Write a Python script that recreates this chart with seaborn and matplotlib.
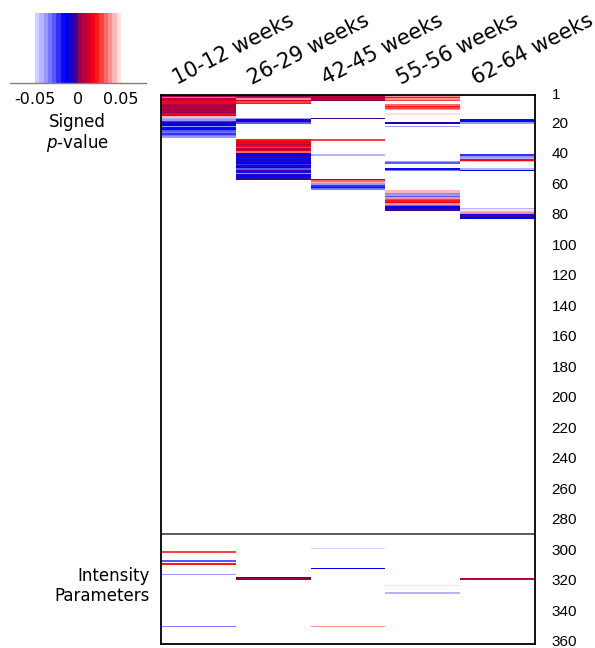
import numpy as np
import pandas as pd
import matplotlib
matplotlib.use("Agg")
import matplotlib.pyplot as plt
from matplotlib.colors import ListedColormap
from matplotlib.transforms import ScaledTranslation
import seaborn as sns

sns.set_theme(style="white")
plt.rcParams["font.family"] = ["DejaVu Sans"]
plt.rcParams["text.color"] = "black"
plt.rcParams["axes.labelcolor"] = "black"

# ---- data -------------------------------------------------------------
time_points = ["10-12 weeks", "26-29 weeks", "42-45 weeks", "55-56 weeks", "62-64 weeks"]
n_rows = 360
split_row = 288  # rows after this are intensity parameters

wk10_rows = [1, 2, 3, 4, 5, 6, 7, 8, 9, 10, 11, 12, 13, 14, 15,
             16, 17, 18, 19, 20, 21, 22, 23, 24, 25, 26, 27, 28,
             300, 306, 308, 315, 349]
wk10_vals = [0.006, 0.034, 0.008, 0.012, 0.018, 0.016, 0.007, 0.004, 0.006, 0.003,
             0.008, 0.005, 0.017, 0.014, 0.040,
             -0.042, -0.038, -0.022, -0.008, -0.012, -0.036, -0.018, -0.014, -0.028,
             -0.032, -0.024, -0.034, -0.040,
             0.030, -0.026, 0.022, -0.036, -0.032]

wk26_rows = [1, 2, 3, 4, 5, 6,
             16, 17, 18, 19,
             30, 31, 32, 33, 34, 35, 36, 37, 38,
             39, 40, 41, 42, 43, 44, 45, 46, 47, 48, 49, 50, 51, 52, 53, 54, 55, 56,
             317, 318]
wk26_vals = [0.004, 0.016, 0.036, 0.014, 0.030, 0.020,
             -0.040, -0.006, -0.008, -0.030,
             0.022, 0.012, 0.018, 0.008, 0.016, 0.030, 0.006, 0.010, 0.034,
             -0.006, -0.012, -0.004, -0.016, -0.008, -0.003, -0.014, -0.022, -0.006,
             -0.010, -0.026, -0.004, -0.018, -0.038, -0.008, -0.014, -0.002, -0.005,
             -0.003, 0.004]

wk42_rows = [1, 2, 3, 4, 16, 30, 40, 56, 57, 58, 59, 60, 61, 62,
             298, 311, 349]
wk42_vals = [0.006, 0.004, 0.007, 0.005, -0.002, 0.026, -0.042,
             0.005, 0.032, 0.044, -0.040, -0.025, -0.020, -0.034,
             -0.048, -0.014, 0.038]

wk55_rows = [1, 2, 3, 4, 7, 8, 9, 10, 13, 19, 21, 44, 45, 49, 50,
             63, 64, 65, 66, 67, 68, 69, 70, 71, 72, 73, 74, 75, 76,
             322, 327]
wk55_vals = [0.036, 0.024, 0.038, 0.030, 0.034, 0.022, 0.028, 0.036, 0.048,
             -0.006, -0.040, -0.036, -0.028, -0.020, -0.034,
             0.044, 0.040, 0.034, -0.036, -0.030, 0.038, 0.030, 0.020, 0.014,
             0.036, 0.026, -0.010, -0.006, -0.003,
             0.048, -0.044]

wk62_rows = [17, 18, 19, 40, 41, 42, 43, 44, 49, 50,
             75, 76, 77, 78, 79, 80, 81, 318]
wk62_vals = [-0.016, -0.018, -0.036, -0.024, -0.040, -0.044, 0.018, 0.040,
             -0.044, -0.012,
             -0.044, 0.048, 0.042, 0.036, -0.010, -0.004, -0.012, 0.006]

tick_rows = [1] + list(range(20, 361, 20))

# ---- table ------------------------------------------------------------
table = pd.DataFrame(np.nan, index=np.arange(1, n_rows + 1), columns=time_points)
for name, rows, vals in zip(time_points,
                            [wk10_rows, wk26_rows, wk42_rows, wk55_rows, wk62_rows],
                            [wk10_vals, wk26_vals, wk42_vals, wk55_vals, wk62_vals]):
    table.loc[rows, name] = vals

# stepped diverging palette: light blue -> blue -> purple | crimson -> red -> light pink
colors = ["#d0d0ff", "#b4b4ff", "#9898ff", "#7878ff", "#5858ff",
          "#3030ff", "#0808ff", "#0000e8", "#2000c0", "#400098",
          "#980050", "#b80040", "#d80028", "#f80010", "#ff1818",
          "#ff4040", "#ff6868", "#ff9090", "#ffb8b8", "#ffe0e0"]
cmap = ListedColormap(colors)
vmin, vmax = -0.05, 0.05

W, H = 595, 648
fig = plt.figure(figsize=(W / 100, H / 100), dpi=100)
fig.patch.set_facecolor("white")

# ---- main heatmap -----------------------------------------------------
ax = fig.add_axes([161 / W, 4 / H, 374 / W, 549 / H])
sns.heatmap(table, ax=ax, cmap=cmap, vmin=vmin, vmax=vmax, cbar=False,
            xticklabels=False, yticklabels=False)
for s in ax.spines.values():
    s.set_visible(True)
    s.set_color("black")
    s.set_linewidth(1.3)
ax.axhline(split_row, color="#404040", lw=1.2)

ax.set_yticks([r - 0.5 for r in tick_rows])
ax.set_yticklabels([str(r) for r in tick_rows], va="center_baseline")
ax.yaxis.tick_right()
ax.tick_params(axis="y", length=0, pad=12, labelsize=11,
               labelfontfamily="Liberation Sans", colors="black")
lift = ScaledTranslation(0, 2.5 / 100, fig.dpi_scale_trans)
for lbl in ax.get_yticklabels():
    lbl.set_transform(lbl.get_transform() + lift)
ax.set_xticks([])
ax.set_xlabel("")
ax.set_ylabel("")

for i, lab in enumerate(time_points):
    ax.text(i + 0.21, -6.5, lab, rotation=27, rotation_mode="anchor",
            ha="left", va="baseline", fontsize=15, color="black")

# ---- colour key -------------------------------------------------------
cax = fig.add_axes([10.1 / W, 1 - 82.7 / H, 135.5 / W, 70 / H])
grad = np.linspace(vmin, vmax, 400)
cax.imshow(grad[None, :], extent=[vmin, vmax, 0, 1], aspect="auto",
           cmap=cmap, vmin=vmin, vmax=vmax, interpolation="nearest")
cax.set_xlim(-0.079, 0.079)
cax.set_ylim(0, 1)
for side in ["left", "right", "top"]:
    cax.spines[side].set_visible(False)
cax.spines["bottom"].set_color("#808080")
cax.spines["bottom"].set_linewidth(1.0)
cax.set_yticks([])
cax.set_xticks([-0.05, 0, 0.05])
cax.set_xticklabels(["-0.05", "0", "0.05"])
cax.tick_params(axis="x", length=0, pad=7, labelsize=11.5, colors="black")
cax.set_facecolor("white")

fig.text(77.5 / W, 1 - 122 / H, "Signed", ha="center", va="center", fontsize=12)
fig.text(77.5 / W, 1 - 143 / H, r"$p$-value", ha="center", va="center", fontsize=12)

fig.text(150 / W, 1 - 586 / H, "Intensity\nParameters", ha="right", va="center",
         multialignment="right", fontsize=12)

fig.savefig("out.png", dpi=100)
